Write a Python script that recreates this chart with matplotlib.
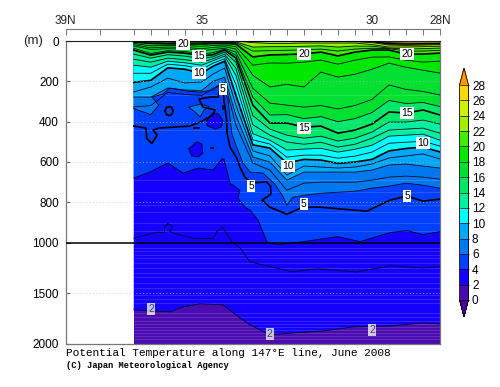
import numpy as np
import matplotlib
matplotlib.use('Agg')
import matplotlib.pyplot as plt
from matplotlib.cm import ScalarMappable
from matplotlib.colors import BoundaryNorm, ListedColormap

# station latitudes along the section
lats = [37, 36.5, 36, 35.5, 35, 34.67, 34.33, 34, 33.5, 33, 32.5, 32, 31.5, 31, 30.5, 30, 29.5, 29, 28.5, 28]

# isotherm depths (m) at each station
iso7 = [327, 320, 255, 265, 270, 235, 205, 417, 605, 640, 740, 705, 700, 700, 700, 690, 675, 670, 675, 685]
iso8 = [278, 278, 233, 243, 245, 200, 179, 367, 575, 600, 690, 650, 650, 650, 650, 640, 615, 610, 620, 630]
iso9 = [253, 228, 184, 208, 203, 164, 134, 318, 545, 570, 665, 620, 625, 630, 625, 610, 580, 570, 560, 585]
iso10 = [205, 195, 133, 140, 160, 125, 100, 268, 515, 531, 605, 587, 590, 607, 600, 587, 545, 533, 526, 550]
iso11 = [160, 160, 115, 122, 140, 110, 88, 215, 490, 511, 576, 566, 566, 581, 571, 551, 507, 502, 497, 521]
iso12 = [120, 130, 100, 108, 120, 98, 75, 170, 460, 492, 541, 536, 532, 551, 537, 517, 472, 467, 462, 492]
iso13 = [90, 105, 85, 92, 105, 88, 65, 135, 415, 467, 501, 512, 502, 526, 512, 482, 442, 437, 432, 457]
iso14 = [65, 85, 68, 75, 88, 78, 55, 105, 370, 437, 467, 482, 472, 496, 482, 452, 402, 402, 392, 412]
iso15 = [45, 70, 55, 60, 74, 68, 45, 84, 318, 407, 407, 427, 422, 457, 442, 412, 352, 357, 342, 367]
iso16 = [36, 62, 48, 52, 65, 58, 40, 70, 280, 367, 365, 385, 375, 400, 385, 355, 295, 310, 305, 325]
iso17 = [25, 42, 38, 40, 48, 42, 36, 55, 235, 308, 318, 328, 320, 337, 320, 290, 218, 240, 250, 268]
iso18 = [18, 34, 30, 32, 38, 32, 28, 40, 170, 228, 215, 228, 154, 179, 165, 140, 110, 130, 145, 159]
iso19 = [12, 24, 22, 23, 26, 22, 20, 28, 120, 109, 110, 105, 95, 115, 95, 80, 79, 95, 105, 100]
iso20 = [5, 12, 14, 15, 15, 12, 12, 15, 79, 69, 67, 64, 55, 74, 55, 45, 45, 65, 65, 60]
iso21 = [3, 6, 6, 8, 8, 6, 6, 8, 50, 48, 46, 44, 40, 50, 40, 36, 38, 50, 50, 46]
iso22 = [0, 0, 0, 2, 2, 4, 4, 4, 30, 28, 28, 26, 24, 30, 25, 26, 35, 40, 38, 35]
iso23 = [0, 0, 0, 0, 0, 0, 0, 0, 8, 12, 12, 10, 10, 10, 10, 18, 30, 30, 28, 26]
iso24 = [0, 0, 0, 0, 0, 0, 0, 0, 0, 2, 2, 2, 2, 2, 3, 8, 20, 22, 20, 18]
iso25 = [0, 0, 0, 0, 0, 0, 0, 0, 0, 0, 0, 0, 0, 0, 0, 2, 14, 15, 14, 13]
iso26 = [0, 0, 0, 0, 0, 0, 0, 0, 0, 0, 0, 0, 0, 0, 0, 0, 8, 10, 10, 10]

# the colder isotherms fold over, so they keep their own lat lists
iso2_lat = [37, 35.94, 35.55, 35.05, 34.38, 33.88, 33.58, 33, 32.33, 31.44, 30.56, 29.47, 28.5, 28]
iso2_z = [1666, 1686, 1637, 1607, 1617, 1746, 1816, 1915, 1895, 1876, 1836, 1826, 1796, 1806]
iso3_lat = [37, 36.33, 36.11, 36.08, 36, 35.86, 35.94, 35.79, 35.26, 34.67, 34.56, 34.38, 34.12, 33.88, 33.58, 32.33, 31.62, 30.44, 29.47, 28.5, 28]
iso3_z = [978, 948, 950, 920, 905, 920, 945, 955, 978, 980, 945, 925, 995, 1050, 1190, 1290, 1260, 1290, 1230, 1250, 1240]
iso4_lat = [37, 36.53, 36, 35.55, 35.1, 34.67, 34.41, 34.35, 34.17, 33.88, 33.94, 33.73, 33.58, 33.35, 33.2, 33.09, 32.79, 32.03, 31, 30.35, 29.47, 28.97, 28.5, 28]
iso4_z = [680, 650, 605, 655, 630, 640, 585, 585, 705, 740, 780, 824, 839, 888, 948, 995, 1020, 995, 970, 995, 950, 940, 960, 945]
iso5_lat = [37, 36.64, 36.62, 36.47, 36.31, 36.43, 36.28, 35.35, 35.05, 34.67, 34.61, 34.97, 35.08, 34.76, 34.52, 34.47, 34.37, 34.35, 34.27, 34.26, 34.17, 33.97, 33.88, 33.73, 33.58, 33.38, 33.1, 32.98, 32.97, 33.23, 33, 32.5, 32.03, 31.53, 30.15, 29.47, 28.97, 28.5, 28]
iso5_z = [422, 432, 483, 508, 467, 442, 432, 422, 402, 367, 342, 328, 288, 278, 278, 243, 218, 293, 392, 457, 526, 581, 625, 675, 700, 702, 698, 720, 760, 789, 824, 859, 824, 824, 844, 789, 769, 794, 784]
iso6_lat = [37, 36.5, 36.26, 36.47, 36.14, 35.94, 35.45, 35.05, 34.67, 34.38, 34.23, 34.12, 34, 33.79, 33.58, 33.2, 32.85, 32.6, 32.5, 32.33, 32, 31.5, 31, 30.5, 30, 29.5, 29, 28.5, 28]
iso6_z = [335, 365, 318, 278, 263, 233, 248, 253, 243, 208, 293, 457, 516, 605, 650, 655, 710, 775, 815, 775, 765, 755, 750, 745, 730, 720, 705, 715, 730]

# closed pockets in the northern part
warm_lat = [35.38, 35.05, 34.78, 34.95, 35.05, 35.2, 35.38]
warm_z = [328, 313, 325, 345, 377, 352, 328]
cold1_lat = [34.85, 34.7, 34.5, 34.38, 34.42, 34.6, 34.85, 34.85]
cold1_z = [395, 357, 362, 395, 425, 437, 420, 395]
cold2_lat = [35.38, 35.15, 35, 34.97, 35.1, 35.3, 35.38]
cold2_z = [535, 500, 510, 555, 575, 570, 535]
ring_lat = [36.08, 36.04, 35.96, 35.88, 35.84, 35.88, 35.96, 36.04, 36.08]
ring_z = [347, 330, 325, 330, 347, 364, 370, 364, 347]
speck_lat = [35.23, 35.08]
speck_z = [430, 430]
dot_lat = [34.72, 34.68]
dot_z = [530, 530]
tick_lat = [34.38, 34.38]
tick_z = [320, 336]

# contour labels: text, lat, depth
label_txt = ['20', '15', '10', '5', '20', '20', '15', '15', '10', '10', '5', '5', '5', '2', '2', '2']
label_lat = [35.55, 35.08, 35.08, 34.38, 32, 28.97, 32, 28.97, 32.47, 28.5, 33.55, 32, 28.97, 36.49, 33, 30]
label_z = [15, 74, 158, 238, 64, 64, 432, 357, 620, 506, 720, 810, 770, 1656, 1905, 1866]

levels = list(range(0, 30, 2))
colors = ['#4a0cb0', '#1400ff', '#0040ff', '#0078f0', '#00a8f8', '#00ffff', '#00f0a0',
          '#00e868', '#00e030', '#00e800', '#40ee00', '#a0ee00', '#d0f000', '#ffd800']
under_color = '#500090'
over_color = '#ff9900'

y_ticks = [0, 200, 400, 600, 800, 1000, 1500, 2000]
dot_depths = [200, 400, 600, 800, 1500]
top_ticks = [39, 38] + lats
top_labels = {39: '39N', 35: '35', 30: '30', 28: '28N'}
stripe_depths = [270, 440, 690, 750, 815, 850, 900, 940, 1050, 1080, 1120, 1150, 1200, 1250, 1300, 1340, 1400,
                 1450, 1520, 1560, 1600, 1700, 1740, 1780, 1810, 1840, 1870, 1900, 1930, 1960]


def depth_fwd(z):
    # upper 1000 m takes twice the room of the lower 1000 m
    z = np.asarray(z, dtype=float)
    return np.where(z <= 1000, z, 1000 + (z - 1000) / 2)


def depth_inv(v):
    v = np.asarray(v, dtype=float)
    return np.where(v <= 1000, v, 1000 + (v - 1000) * 2)


W, H = 500, 387
fig = plt.figure(figsize=(W / 100, H / 100), dpi=100)
ax = fig.add_axes([65.7 / W, 1 - 343.5 / H, (440 - 65.7) / W, (343.5 - 41) / H])
ax.set_xlim(39, 28)
ax.set_yscale('function', functions=(depth_fwd, depth_inv))
ax.set_ylim(2000, 0)

isotherms = {2: (iso2_lat, iso2_z), 3: (iso3_lat, iso3_z), 4: (iso4_lat, iso4_z),
             5: (iso5_lat, iso5_z), 6: (iso6_lat, iso6_z), 7: (lats, iso7), 8: (lats, iso8),
             9: (lats, iso9), 10: (lats, iso10), 11: (lats, iso11), 12: (lats, iso12),
             13: (lats, iso13), 14: (lats, iso14), 15: (lats, iso15), 16: (lats, iso16),
             17: (lats, iso17), 18: (lats, iso18), 19: (lats, iso19), 20: (lats, iso20),
             21: (lats, iso21), 22: (lats, iso22), 23: (lats, iso23), 24: (lats, iso24),
             25: (lats, iso25), 26: (lats, iso26)}

# paint from cold to warm, each band covers everything above its isotherm
ax.fill([37, 28, 28, 37], [0, 0, 2000, 2000], color=colors[0], lw=0, zorder=1)
for t in range(2, 28, 2):
    x, z = isotherms[t]
    ax.fill(list(x) + [28, 37], list(z) + [0, 0], color=colors[t // 2], lw=0, zorder=1 + t * 0.01)

# pockets
ax.fill(warm_lat, warm_z, color=colors[3], lw=0, zorder=1.5)
ax.fill(cold1_lat, cold1_z, color=colors[1], lw=0, zorder=1.5)
ax.fill(cold2_lat, cold2_z, color=colors[1], lw=0, zorder=1.5)

# faint stripes left by the plotting package
ax.hlines(stripe_depths, 37, 28, color='white', lw=0.5, alpha=0.2, zorder=2)

for t, (x, z) in isotherms.items():
    if t % 5 == 0:
        ax.plot(x, z, color='black', lw=1.2, zorder=3, solid_joinstyle='round')
    else:
        ax.plot(x, z, color='#000820', lw=0.6, zorder=3)
for x, z in [(warm_lat, warm_z), (cold1_lat, cold1_z), (cold2_lat, cold2_z)]:
    ax.plot(x, z, color='#000820', lw=0.6, zorder=3)
for x, z in [(ring_lat, ring_z), (speck_lat, speck_z), (tick_lat, tick_z), (dot_lat, dot_z)]:
    ax.plot(x, z, color='black', lw=1.2, zorder=3)

ax.hlines(dot_depths, 39, 28, color='#b8b8b8', lw=0.6, linestyle=(0, (1, 3)), zorder=4)
ax.hlines(1000, 39, 28, color='black', lw=1.1, zorder=4)

for txt, la, z in zip(label_txt, label_lat, label_z):
    faded = txt == '2'
    ax.text(la, z, txt, ha='center', va='center', fontsize=7.5, family='Liberation Sans',
            color='#444444' if faded else 'black', zorder=5,
            bbox=dict(boxstyle='square,pad=0.1', fc='white', ec='none', alpha=0.75 if faded else 1))

# axes furniture
for name in ['left', 'right', 'bottom']:
    ax.spines[name].set_color('#777777')
    ax.spines[name].set_linewidth(0.9)
ax.spines['top'].set_color('#222222')
ax.set_xticks([])
ax.set_yticks(y_ticks)
ax.set_yticklabels([str(v) for v in y_ticks], fontsize=8.5, family='Liberation Sans')
ax.minorticks_off()
ax.tick_params(axis='y', direction='in', length=3, width=0.8, color='#555555', pad=5)

sec = ax.secondary_xaxis(1.041)
sec.set_xticks(top_ticks)
sec.set_xticklabels([top_labels.get(v, '') for v in top_ticks], fontsize=8.5, family='Liberation Sans', color='#222222')
sec.tick_params(axis='x', direction='in', length=4, width=0.7, color='#777777', pad=1.5)
sec.spines['top'].set_color('#777777')

fig.text(33 / W, 1 - 41 / H, '(m)', fontsize=9.5, family='Liberation Sans', ha='center', va='center', color='#222222')
fig.text(66 / W, 1 - 352.5 / H, 'Potential Temperature along 147°E line, June 2008', fontsize=8,
         family='Liberation Mono', ha='left', va='center', color='black')
fig.text(66 / W, 1 - 366 / H, '(C) Japan Meteorological Agency', fontsize=6.3, fontweight='bold',
         family='Liberation Mono', ha='left', va='center', color='black')

# colour bar, the two tips sit inside the axes box
cax = fig.add_axes([459.5 / W, 1 - 317 / H, 9 / W, 249 / H])
cmap = ListedColormap(colors)
cmap.set_under(under_color)
cmap.set_over(over_color)
norm = BoundaryNorm(levels, cmap.N)
cb = fig.colorbar(ScalarMappable(norm=norm, cmap=cmap), cax=cax, extend='both',
                  extendfrac=17 / 215, ticks=levels, drawedges=True)
cb.dividers.set_linewidth(0.5)
cb.outline.set_linewidth(0.6)
cax.tick_params(length=0, pad=2.5, labelsize=8.5)
for lab in cax.get_yticklabels():
    lab.set_family('Liberation Sans')

fig.savefig('out.png', dpi=100)
